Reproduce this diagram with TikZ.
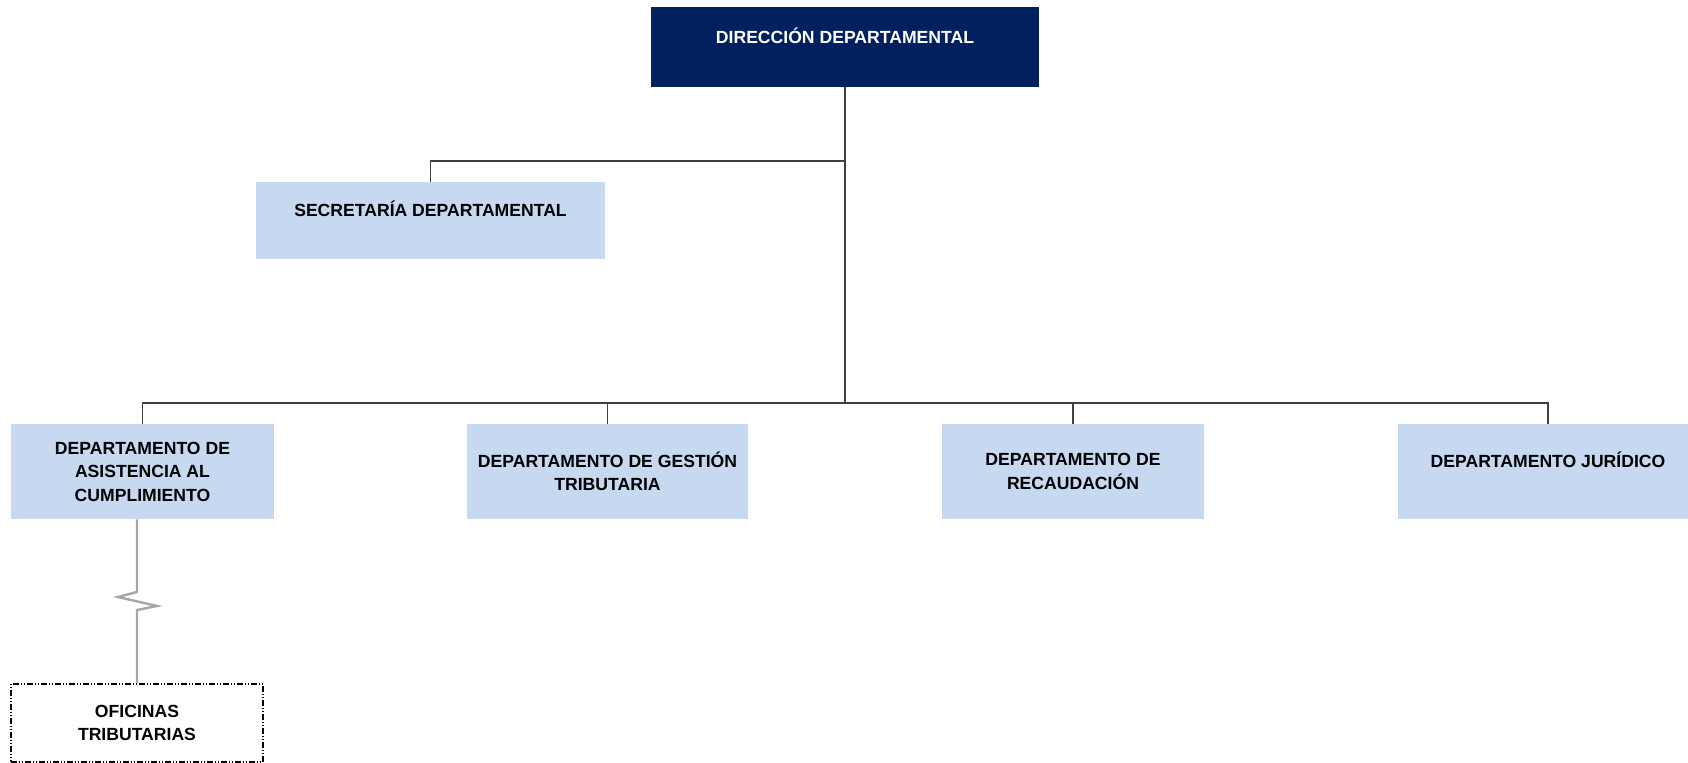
\documentclass[tikz,border=0pt]{standalone}
\usepackage{fontspec}
\setmainfont{Liberation Sans}
\definecolor{navy}{HTML}{002060}
\definecolor{paleblue}{HTML}{C6D9F1}
\definecolor{linegray}{HTML}{404040}
\begin{document}
\begin{tikzpicture}[x=0.5pt, y=-0.5pt,
    unit/.style={fill=paleblue, inner sep=0pt, align=center, text=black,
        font=\fontsize{8.8}{11.75}\selectfont\bfseries},
    head/.style={unit, fill=navy, text=white},
    office/.style={unit, fill=white, draw=black, line width=0.6pt,
        dash pattern=on 3pt off 1pt on 0.5pt off 1pt on 0.5pt off 1pt},
    link/.style={draw=linegray, line width=0.75pt},
    zig/.style={draw=gray!70, line width=1.2pt, line join=miter}]
    \useasboundingbox (0,0) rectangle (1688,763);
    % boxes (sizes in pt, half of the pixel sizes)
    \node[head, minimum width=194pt, minimum height=40pt] (dir) at (845,47)
        {DIRECCIÓN DEPARTAMENTAL\\~};
    \node[unit, minimum width=174.5pt, minimum height=38.5pt] (sec) at (430.5,220.5)
        {SECRETARÍA DEPARTAMENTAL\\~};
    \node[unit, minimum width=131.5pt, minimum height=47.5pt] (asis) at (142.5,471.5)
        {DEPARTAMENTO DE\\ASISTENCIA AL\\CUMPLIMIENTO};
    \node[unit, minimum width=140.5pt, minimum height=47.5pt] (gest) at (607.5,471.5)
        {DEPARTAMENTO DE GESTIÓN\\TRIBUTARIA};
    \node[unit, minimum width=131pt, minimum height=47.5pt] (rec) at (1073,471.5)
        {DEPARTAMENTO DE\\RECAUDACIÓN};
    \node[unit, minimum width=150pt, minimum height=47.5pt] (jur) at (1548,471.5)
        {DEPARTAMENTO JURÍDICO\\~};
    \node[office, minimum width=126pt, minimum height=39pt] (ofic) at (137,723)
        {OFICINAS\\TRIBUTARIAS};
    % lines
    \coordinate (secbr) at (0,161);
    \coordinate (bus) at (0,403);
    \draw[link] (dir.south) -- (dir.south |- bus);
    \draw[link] (sec.north) |- (dir.south |- secbr);
    \draw[link] (asis.north) -- (asis.north |- bus) -- (jur.north |- bus) -- (jur.north);
    \draw[link] (gest.north) -- (gest.north |- bus);
    \draw[link] (rec.north) -- (rec.north |- bus);
    \draw[zig] (ofic.north |- asis.south) -- (137,592) -- (118,597) -- (157,606)
        -- (137,610) -- (ofic.north);
\end{tikzpicture}
\end{document}
